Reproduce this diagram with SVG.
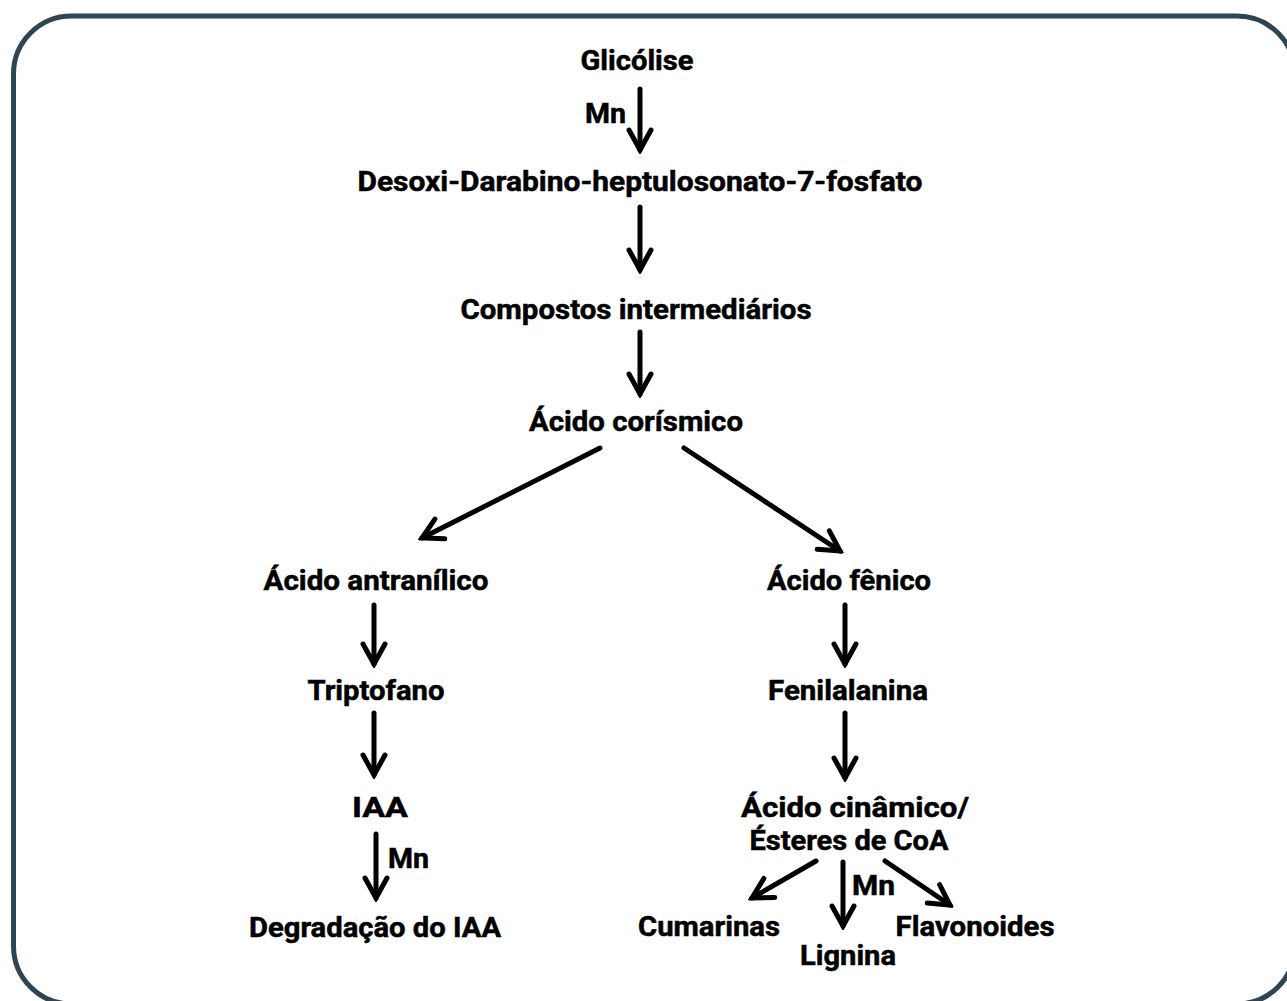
<svg xmlns="http://www.w3.org/2000/svg" width="1287" height="1001" viewBox="0 0 1287 1001">
  <style>
    .lbl { font-family: Roboto, "Liberation Sans", sans-serif; font-weight: bold; font-size: 27.5px; fill: #000; stroke: #000; stroke-width: 0.5; text-anchor: middle; }
    .mn { text-anchor: start; }
    .edge { stroke: #000; stroke-width: 5; fill: none; stroke-linecap: round; marker-end: url(#head); }
  </style>
  <defs>
    <marker id="head" markerUnits="userSpaceOnUse" viewBox="-26 -15 30 30" refX="0" refY="0" markerWidth="30" markerHeight="30" orient="auto">
      <path d="M -20 -11 L 0 0 L -20 11" fill="none" stroke="#000" stroke-width="5" stroke-linecap="round" stroke-linejoin="miter"/>
    </marker>
  </defs>

  <rect width="1287" height="1001" fill="#fff"/>
  <!-- frame -->
  <rect x="13.5" y="16" width="1281.5" height="988" rx="58" ry="58" fill="none" stroke="#2f4554" stroke-width="5"/>

  <!-- connectors -->
  <g id="connectors">
    <line class="edge" x1="640" y1="89" x2="640" y2="150"/>
    <line class="edge" x1="640" y1="207" x2="640" y2="270"/>
    <line class="edge" x1="640" y1="332" x2="640" y2="394"/>
    <line class="edge" x1="600" y1="448" x2="422" y2="538"/>
    <line class="edge" x1="684" y1="448" x2="840" y2="551"/>
    <line class="edge" x1="374" y1="605" x2="374" y2="664"/>
    <line class="edge" x1="845" y1="605" x2="845" y2="664"/>
    <line class="edge" x1="374" y1="713" x2="374" y2="775"/>
    <line class="edge" x1="845" y1="713" x2="845" y2="778"/>
    <line class="edge" x1="376" y1="834" x2="376" y2="898"/>
    <line class="edge" x1="816" y1="861" x2="752" y2="898"/>
    <line class="edge" x1="843" y1="862" x2="843" y2="926"/>
    <line class="edge" x1="885" y1="861" x2="950" y2="905"/>
  </g>

  <!-- edge labels -->
  <g id="edge-labels">
    <text class="lbl mn" x="585" y="123" textLength="41" lengthAdjust="spacingAndGlyphs">Mn</text>
    <text class="lbl mn" x="388" y="868" textLength="41" lengthAdjust="spacingAndGlyphs">Mn</text>
    <text class="lbl mn" x="852" y="895" textLength="43" lengthAdjust="spacingAndGlyphs">Mn</text>
  </g>

  <!-- nodes -->
  <g id="n-glicolise"><text class="lbl" x="637" y="69.5" textLength="113" lengthAdjust="spacingAndGlyphs">Glicólise</text></g>
  <g id="n-dahp"><text class="lbl" x="640" y="190.5" textLength="565" lengthAdjust="spacingAndGlyphs">Desoxi-Darabino-heptulosonato-7-fosfato</text></g>
  <g id="n-intermediarios"><text class="lbl" x="636" y="318.5" textLength="351" lengthAdjust="spacingAndGlyphs">Compostos intermediários</text></g>
  <g id="n-corismico"><text class="lbl" x="636" y="430.5" textLength="214" lengthAdjust="spacingAndGlyphs">Ácido corísmico</text></g>
  <g id="n-antranilico"><text class="lbl" x="376" y="589.5" textLength="225" lengthAdjust="spacingAndGlyphs">Ácido antranílico</text></g>
  <g id="n-fenico"><text class="lbl" x="849" y="589.5" textLength="164" lengthAdjust="spacingAndGlyphs">Ácido fênico</text></g>
  <g id="n-triptofano"><text class="lbl" x="376" y="699.5" textLength="137" lengthAdjust="spacingAndGlyphs">Triptofano</text></g>
  <g id="n-fenilalanina"><text class="lbl" x="848" y="699.5" textLength="160" lengthAdjust="spacingAndGlyphs">Fenilalanina</text></g>
  <g id="n-iaa"><text class="lbl" x="380" y="816.5" textLength="56" lengthAdjust="spacingAndGlyphs">IAA</text></g>
  <g id="n-cinamico">
    <text class="lbl" x="855" y="816.5" textLength="228" lengthAdjust="spacingAndGlyphs">Ácido cinâmico/</text>
    <text class="lbl" x="849" y="849.5" textLength="199" lengthAdjust="spacingAndGlyphs">Ésteres de CoA</text>
  </g>
  <g id="n-degradacao"><text class="lbl" x="375" y="936.5" textLength="252" lengthAdjust="spacingAndGlyphs">Degradação do IAA</text></g>
  <g id="n-cumarinas"><text class="lbl" x="709" y="935.5" textLength="142" lengthAdjust="spacingAndGlyphs">Cumarinas</text></g>
  <g id="n-lignina"><text class="lbl" x="848" y="964.5" textLength="96" lengthAdjust="spacingAndGlyphs">Lignina</text></g>
  <g id="n-flavonoides"><text class="lbl" x="975" y="935.5" textLength="159" lengthAdjust="spacingAndGlyphs">Flavonoides</text></g>
</svg>
